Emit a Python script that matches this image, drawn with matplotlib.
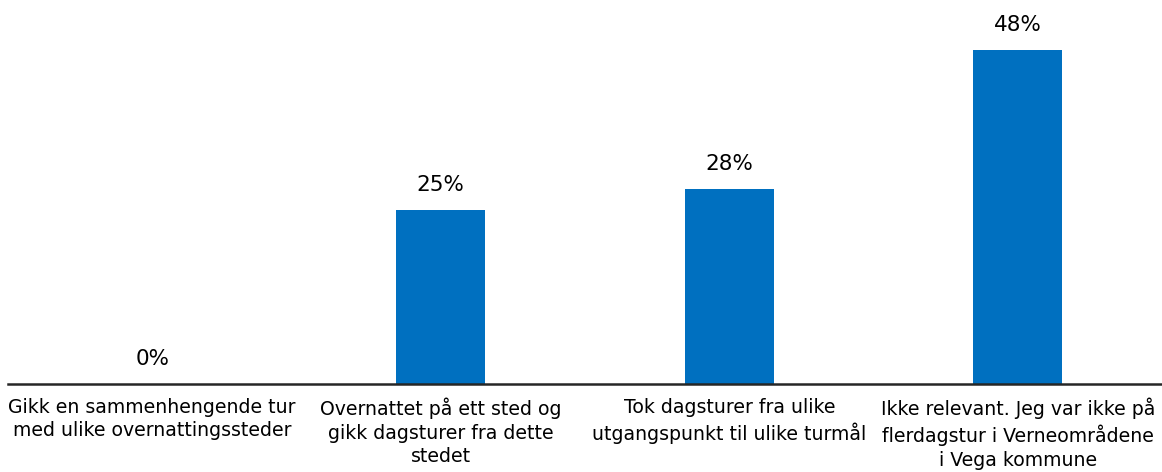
import matplotlib
matplotlib.use("Agg")
import matplotlib.pyplot as plt

categories = [
    "Gikk en sammenhengende tur\nmed ulike overnattingssteder",
    "Overnattet på ett sted og\ngikk dagsturer fra dette\nstedet",
    "Tok dagsturer fra ulike\nutgangspunkt til ulike turmål",
    "Ikke relevant. Jeg var ikke på\nflerdagstur i Verneområdene\ni Vega kommune",
]
values = [0, 25, 28, 48]
labels = ["0%", "25%", "28%", "48%"]

plt.rcParams['font.family'] = ['DejaVu Sans']

fig = plt.figure(figsize=(11.62, 4.72), dpi=100)
ax = fig.add_axes([8 / 1162, 88 / 472, 1154 / 1162, 384 / 472])

x = list(range(len(values)))
ax.bar(x, values, width=0.31, color="#0070C0")

for xi, v, lab in zip(x, values, labels):
    ax.annotate(lab, (xi, v), xytext=(0, 18), textcoords="offset points",
                ha="center", va="center", fontsize=15.5, color="#000000")

ax.set_xlim(-0.5, 3.5)
ax.set_ylim(0, 384 / 6.95)
ax.set_xticks(x)
ax.set_xticklabels(categories, fontsize=13.6, linespacing=1.3)
ax.tick_params(axis="x", length=0, pad=10)
ax.set_yticks([])
for side in ["top", "right", "left"]:
    ax.spines[side].set_visible(False)
ax.spines["bottom"].set_color("#262626")
ax.spines["bottom"].set_linewidth(1.8)

fig.savefig("out.png", dpi=100)
